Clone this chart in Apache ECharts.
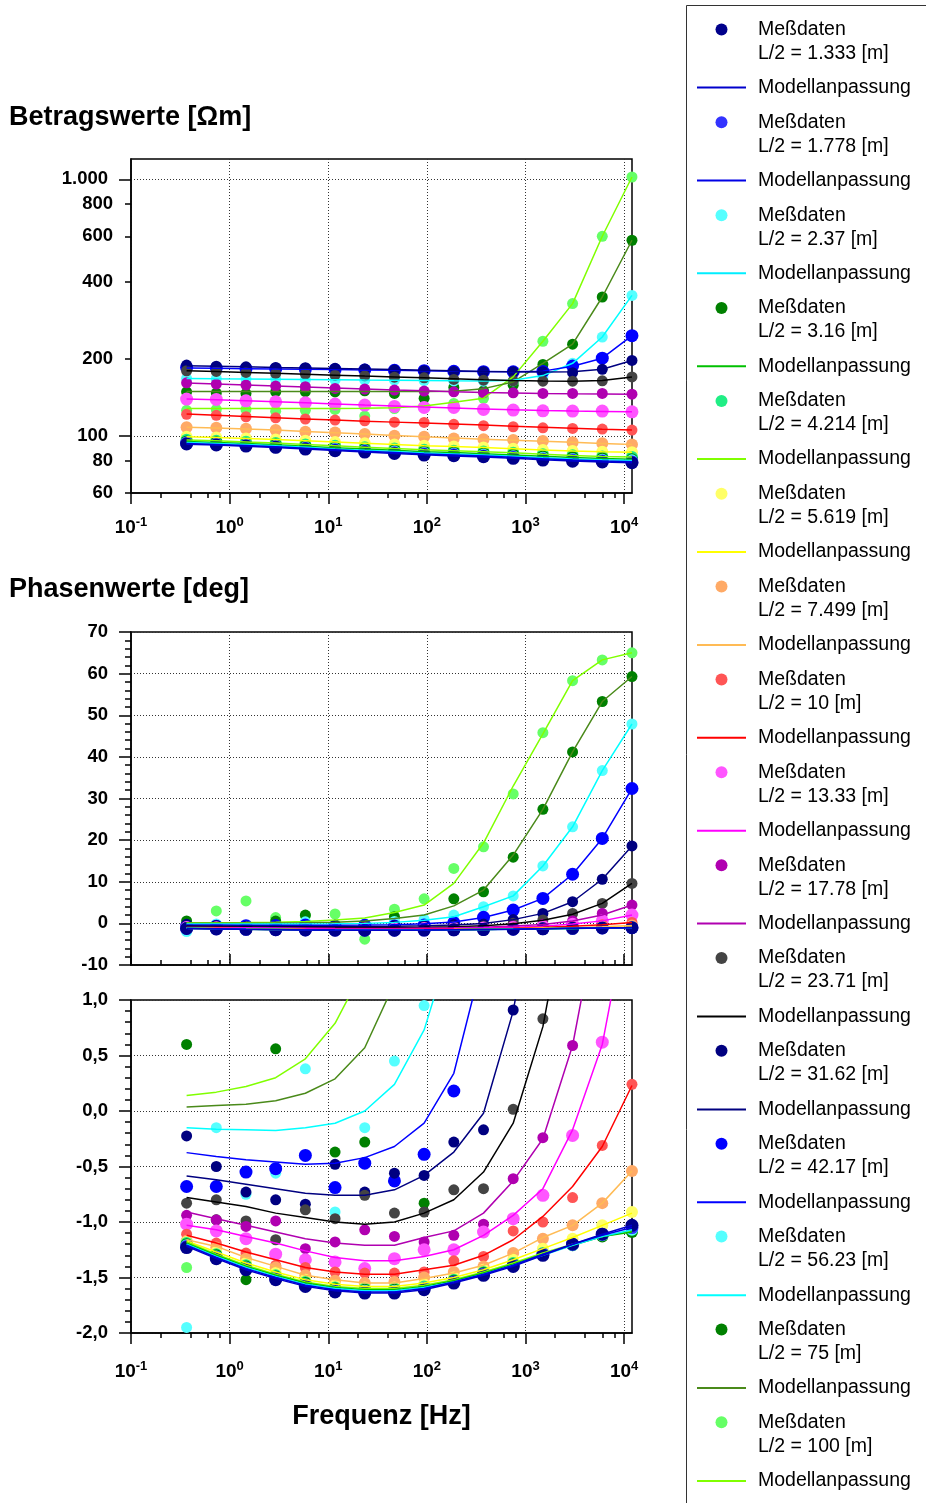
<!DOCTYPE html>
<html><head><meta charset="utf-8">
<script src="https://cdn.jsdelivr.net/npm/echarts@6.0.0/dist/echarts.min.js"></script>
<style>html,body{margin:0;padding:0;background:#fff}#c{width:926px;height:1503px}</style>
</head><body><div id="c"></div>
<script>
// ---------- data ----------
const FREQ = [0.3662, 0.7324, 1.465, 2.93, 5.859, 11.72, 23.44, 46.88, 93.75, 187.5, 375, 750, 1500, 3000, 6000, 12000];
const L_HALF = ['1.333', '1.778', '2.37', '3.16', '4.214', '5.619', '7.499', '10', '13.33', '17.78', '23.71', '31.62', '42.17', '56.23', '75', '100'];
const MARKER_COLORS = ['#00008b', '#3333ff', '#55ffff', '#008000', '#20ee85', '#ffff66', '#ffaa66', '#ff5555', '#ff55ff', '#b000b0', '#444444', '#000080', '#0000ff', '#55ffff', '#008000', '#66ff66'];
const LINE_COLORS = ['#0000cc', '#0000e6', '#00eeff', '#00c000', '#80ff00', '#ffff00', '#ffbb55', '#ff0000', '#ff00ff', '#b000b0', '#000000', '#000080', '#0000ff', '#00ffff', '#4a8a1a', '#80ff00'];
const MARKER_SIZES = [13, 13, 12, 12, 12, 12, 12, 11, 13, 11, 11, 11, 13, 11, 11, 11];

// apparent resistivity, measured [Ohm m]
const RHO_MEAS = [
  [93.1, 92.3, 91.4, 90.4, 89.0, 87.7, 86.6, 85.6, 84.3, 83.8, 83.1, 81.9, 80.6, 79.8, 79.3, 78.7],
  [93.8, 92.9, 91.9, 90.8, 89.7, 88.4, 87.3, 86.1, 85.1, 84.5, 83.7, 82.7, 81.4, 80.6, 79.9, 79.3],
  [94.4, 93.4, 92.7, 91.5, 90.5, 89.2, 88.0, 87.1, 85.9, 85.3, 84.5, 83.5, 82.4, 81.4, 80.8, 80.4],
  [95.3, 94.5, 93.4, 92.6, 91.4, 90.1, 89.1, 88.0, 86.8, 86.3, 85.5, 84.5, 83.3, 82.6, 81.9, 81.2],
  [96.7, 95.8, 95.0, 93.9, 92.7, 91.7, 90.5, 89.4, 88.5, 87.7, 87.0, 86.1, 84.9, 84.1, 83.3, 82.9],
  [99.4, 98.7, 97.8, 96.9, 95.8, 94.7, 93.7, 92.7, 91.7, 91.0, 90.3, 89.3, 88.3, 87.5, 86.9, 86.5],
  [108.1, 107.7, 106.8, 105.5, 103.9, 103.3, 101.8, 100.2, 99.4, 97.9, 97.1, 96.5, 95.6, 94.5, 93.7, 92.8],
  [121.5, 120.4, 118.9, 117.8, 116.4, 115.4, 114.7, 113.3, 113.0, 111.1, 109.7, 108.7, 107.7, 107.1, 106.5, 105.5],
  [139.3, 138.9, 137.2, 136.0, 134.7, 133.2, 132.0, 130.4, 129.3, 129.3, 127.0, 126.2, 125.4, 125.1, 125.1, 124.3],
  [161.2, 159.4, 158.0, 156.5, 155.6, 153.3, 152.4, 151.0, 149.7, 148.7, 147.4, 147.4, 146.5, 146.5, 146.5, 145.6],
  [179.6, 178.5, 177.0, 175.3, 174.3, 172.7, 171.6, 169.5, 168.6, 166.2, 165.0, 164.1, 163.6, 163.6, 164.1, 170.0],
  [189.0, 187.1, 186.0, 185.0, 184.5, 183.5, 182.4, 181.0, 179.6, 178.5, 178.0, 178.0, 178.0, 176.5, 182.0, 197.0],
  [185.0, 184.0, 183.0, 182.6, 182.2, 181.4, 180.8, 180.3, 179.8, 178.8, 178.2, 178.0, 178.5, 187.3, 201.0, 246.0],
  [167.7, 167.3, 166.9, 166.5, 166.0, 165.5, 165.0, 165.0, 164.5, 164.0, 163.5, 164.0, 170.0, 192.0, 243.0, 353.0],
  [148.7, 147.0, 146.5, 148.5, 149.0, 148.5, 150.0, 146.5, 140.2, 154.6, 150.0, 157.8, 190.0, 228.0, 348.0, 579.0],
  [126.0, 127.0, 127.0, 125.0, 126.0, 127.0, 119.6, 128.0, 130.0, 134.0, 140.2, 162.0, 234.0, 328.0, 600.0, 1021.0]
];
// apparent resistivity, model fit [Ohm m]
const RHO_FIT = [
  [93.0, 92.2, 91.3, 90.3, 89.1, 87.8, 86.6, 85.5, 84.5, 83.7, 82.9, 81.9, 80.8, 79.9, 79.2, 78.7],
  [93.6, 92.8, 91.9, 90.9, 89.7, 88.4, 87.2, 86.2, 85.1, 84.4, 83.6, 82.6, 81.5, 80.6, 79.9, 79.4],
  [94.3, 93.5, 92.6, 91.6, 90.4, 89.1, 88.0, 87.0, 85.9, 85.2, 84.4, 83.4, 82.3, 81.4, 80.8, 80.3],
  [95.2, 94.4, 93.5, 92.5, 91.3, 90.1, 89.0, 88.0, 86.9, 86.2, 85.4, 84.4, 83.4, 82.5, 81.8, 81.3],
  [96.6, 95.8, 94.9, 93.9, 92.8, 91.6, 90.5, 89.5, 88.4, 87.7, 86.9, 86.0, 84.9, 84.0, 83.3, 82.8],
  [99.4, 98.7, 97.8, 96.9, 95.8, 94.7, 93.7, 92.7, 91.7, 91.0, 90.2, 89.3, 88.3, 87.5, 86.9, 86.5],
  [108.2, 107.5, 106.6, 105.5, 104.2, 103.0, 101.8, 100.5, 99.3, 98.2, 97.2, 96.3, 95.4, 94.5, 93.6, 92.8],
  [121.8, 120.5, 119.2, 117.9, 116.6, 115.4, 114.3, 113.3, 112.3, 111.3, 110.3, 109.2, 108.2, 107.2, 106.3, 105.5],
  [139.5, 138.5, 137.3, 136.0, 134.7, 133.3, 132.0, 130.9, 129.7, 128.6, 127.5, 126.5, 125.7, 125.1, 124.7, 124.3],
  [161.0, 159.5, 158.0, 156.6, 155.2, 153.8, 152.5, 151.2, 150.0, 148.9, 147.9, 147.2, 146.6, 146.2, 145.9, 145.6],
  [179.5, 178.4, 177.0, 175.5, 174.1, 172.7, 171.3, 170.0, 168.6, 167.2, 165.8, 164.6, 163.8, 163.6, 164.6, 170.0],
  [188.0, 187.0, 186.0, 185.0, 184.3, 183.4, 182.5, 181.5, 180.5, 179.5, 178.6, 178.0, 177.6, 178.0, 182.0, 197.0],
  [184.0, 183.5, 183.0, 182.5, 182.0, 181.5, 181.0, 180.4, 179.8, 179.0, 178.5, 178.0, 179.0, 187.0, 201.0, 246.0],
  [167.5, 167.0, 166.8, 166.4, 166.0, 165.6, 165.2, 165.0, 164.6, 164.2, 164.0, 165.0, 172.0, 192.0, 243.0, 353.0],
  [149.0, 149.0, 149.0, 149.0, 149.0, 149.0, 149.0, 149.0, 149.0, 149.5, 153.0, 162.5, 192.0, 228.0, 348.0, 579.0],
  [128.0, 128.0, 128.0, 128.0, 128.0, 128.0, 128.3, 129.0, 131.0, 135.5, 140.5, 170.0, 234.0, 328.0, 600.0, 1021.0]
];
// phase, measured [deg]
const PH_MEAS = [
  [-1.23, -1.33, -1.43, -1.52, -1.58, -1.63, -1.64, -1.64, -1.61, -1.55, -1.48, -1.40, -1.30, -1.20, -1.11, -1.03],
  [-1.22, -1.32, -1.42, -1.51, -1.57, -1.62, -1.63, -1.63, -1.60, -1.54, -1.47, -1.39, -1.29, -1.20, -1.11, -1.05],
  [-1.21, -1.31, -1.41, -1.50, -1.56, -1.61, -1.62, -1.62, -1.59, -1.54, -1.47, -1.39, -1.29, -1.21, -1.12, -1.07],
  [-1.20, -1.30, -1.40, -1.49, -1.55, -1.60, -1.61, -1.61, -1.59, -1.53, -1.46, -1.38, -1.29, -1.21, -1.13, -1.09],
  [-1.19, -1.29, -1.39, -1.48, -1.54, -1.59, -1.60, -1.60, -1.58, -1.52, -1.45, -1.37, -1.28, -1.20, -1.12, -1.08],
  [-1.18, -1.27, -1.37, -1.46, -1.52, -1.57, -1.59, -1.59, -1.56, -1.50, -1.43, -1.34, -1.24, -1.15, -1.03, -0.91],
  [-1.17, -1.23, -1.33, -1.41, -1.48, -1.53, -1.55, -1.54, -1.50, -1.45, -1.40, -1.28, -1.15, -1.03, -0.83, -0.54],
  [-1.11, -1.19, -1.28, -1.39, -1.41, -1.45, -1.46, -1.46, -1.45, -1.35, -1.31, -1.08, -1.00, -0.78, -0.31, 0.24],
  [-1.02, -1.08, -1.15, -1.29, -1.34, -1.36, -1.42, -1.33, -1.25, -1.25, -1.09, -0.97, -0.76, -0.22, 0.62, 2.0],
  [-0.94, -0.98, -1.04, -0.99, -1.24, -1.18, -1.07, -1.13, -1.18, -1.12, -1.02, -0.61, -0.24, 0.59, 2.4, 4.4],
  [-0.83, -0.80, -0.99, -1.16, -0.89, -0.97, -0.76, -0.92, -0.91, -0.71, -0.70, 0.015, 0.83, 2.4, 4.8, 9.6],
  [-0.225, -0.50, -0.73, -0.80, -0.84, -0.48, -0.73, -0.56, -0.58, -0.28, -0.17, 0.91, 2.4, 5.2, 10.6, 18.6],
  [-0.68, -0.68, -0.55, -0.52, -0.40, -0.69, -0.47, -0.63, -0.39, 0.18, 1.45, 3.2, 6.0, 11.8, 20.4, 32.4],
  [-1.95, -0.15, -0.75, -0.56, 0.38, -0.91, -0.15, 0.45, 0.95, 2.0, 4.0, 6.6, 13.8, 23.2, 36.7, 47.9],
  [0.60, -0.98, -1.52, 0.56, 2.0, -0.37, -0.28, 1.6, -0.83, 5.9, 7.6, 15.9, 27.4, 41.2, 53.3, 59.3],
  [-1.41, 3.0, 5.4, 1.4, 1.9, 2.25, -3.8, 3.4, 5.9, 13.2, 18.4, 31.1, 45.8, 58.3, 63.3, 65.0]
];
// phase, model fit [deg]
const PH_FIT = [
  [-1.22, -1.33, -1.43, -1.51, -1.58, -1.62, -1.64, -1.64, -1.61, -1.55, -1.48, -1.40, -1.30, -1.20, -1.11, -1.03],
  [-1.21, -1.32, -1.42, -1.50, -1.57, -1.61, -1.63, -1.63, -1.60, -1.54, -1.47, -1.39, -1.29, -1.20, -1.12, -1.05],
  [-1.20, -1.31, -1.41, -1.49, -1.56, -1.60, -1.62, -1.62, -1.59, -1.54, -1.47, -1.39, -1.30, -1.21, -1.13, -1.07],
  [-1.19, -1.30, -1.40, -1.48, -1.55, -1.59, -1.61, -1.61, -1.58, -1.53, -1.46, -1.38, -1.29, -1.21, -1.13, -1.09],
  [-1.18, -1.29, -1.39, -1.47, -1.54, -1.58, -1.60, -1.60, -1.57, -1.52, -1.45, -1.37, -1.28, -1.20, -1.13, -1.08],
  [-1.17, -1.27, -1.37, -1.45, -1.52, -1.56, -1.58, -1.58, -1.55, -1.50, -1.43, -1.34, -1.24, -1.14, -1.03, -0.92],
  [-1.16, -1.22, -1.32, -1.40, -1.48, -1.52, -1.55, -1.55, -1.51, -1.46, -1.39, -1.28, -1.14, -1.03, -0.83, -0.54],
  [-1.12, -1.19, -1.27, -1.34, -1.41, -1.45, -1.47, -1.47, -1.43, -1.39, -1.30, -1.16, -0.95, -0.68, -0.32, 0.23],
  [-1.03, -1.07, -1.13, -1.19, -1.26, -1.32, -1.35, -1.35, -1.31, -1.25, -1.12, -0.94, -0.70, -0.17, 0.6, 2.0],
  [-0.91, -0.97, -1.03, -1.09, -1.15, -1.19, -1.21, -1.21, -1.14, -1.08, -0.92, -0.63, -0.25, 0.59, 2.0, 4.4],
  [-0.78, -0.82, -0.86, -0.92, -0.96, -1.00, -1.02, -1.00, -0.92, -0.80, -0.55, -0.11, 0.76, 2.2, 4.8, 9.6],
  [-0.585, -0.62, -0.66, -0.70, -0.74, -0.76, -0.76, -0.71, -0.58, -0.37, -0.02, 0.9, 2.4, 5.2, 10.6, 18.6],
  [-0.375, -0.41, -0.44, -0.46, -0.48, -0.47, -0.42, -0.32, -0.11, 0.34, 1.4, 3.2, 6.0, 11.8, 20.4, 32.4],
  [-0.15, -0.165, -0.17, -0.175, -0.15, -0.11, 0.0, 0.24, 0.73, 1.6, 4.0, 6.6, 13.8, 23.2, 36.7, 47.9],
  [0.036, 0.05, 0.06, 0.093, 0.16, 0.29, 0.57, 1.15, 2.0, 4.2, 8.0, 16.4, 27.4, 41.2, 53.3, 59.3],
  [0.14, 0.17, 0.22, 0.30, 0.47, 0.79, 1.3, 2.6, 4.4, 9.6, 19.3, 33.0, 45.5, 58.3, 63.3, 65.0]
];

// tick values / labels
const X_TICKS = [0.1, 1, 10, 100, 1000, 10000];
const X_TICK_EXP = ['-1', '0', '1', '2', '3', '4'];
const X_MINOR = [0.2, 0.4, 0.6, 0.8, 2, 4, 6, 8, 20, 40, 60, 80, 200, 400, 600, 800, 2000, 4000, 6000, 8000];
const RHO_TICKS_MAJOR = [100, 1000];
const RHO_TICKS_MINOR = [60, 80, 200, 400, 600, 800];

// ---------- chart ----------
const FONT = '"Liberation Sans", Arial, Helvetica, sans-serif';
const GRID_L = 131, GRID_W = 501;
const AXIS_LINE = { color: '#000', width: 1.5 };
const GRID_SPLIT = { show: true, lineStyle: { color: '#333', width: 1, type: [1, 2] } };

function xLabelFormatter(v) {
  let idx = X_TICKS.findIndex(t => Math.abs(Math.log10(t) - Math.log10(v)) < 1e-6);
  return '{b|10}{s|' + (idx >= 0 ? X_TICK_EXP[idx] : '') + '}';
}
const X_RICH = {
  b: { fontSize: 19, fontWeight: 'bold', fontFamily: FONT, color: '#000', lineHeight: 24 },
  s: { fontSize: 13, fontWeight: 'bold', fontFamily: FONT, color: '#000', lineHeight: 10, verticalAlign: 'top' }
};

function xMajor(grid, showLabels, inside, margin, extra) {
  return Object.assign({
    type: 'log', logBase: 10, gridIndex: grid, min: 0.1, max: 12010, position: 'bottom',
    axisLine: { show: true, onZero: false, lineStyle: AXIS_LINE },
    axisTick: { show: true, inside: inside, length: 11, lineStyle: AXIS_LINE, customValues: X_TICKS },
    axisLabel: { show: showLabels, customValues: X_TICKS, formatter: xLabelFormatter, rich: X_RICH, margin: margin },
    splitLine: GRID_SPLIT, minorTick: { show: false }, minorSplitLine: { show: false }
  }, extra || {});
}
function xMinor(grid, inside) {
  return {
    type: 'log', logBase: 10, gridIndex: grid, min: 0.1, max: 12010, position: 'bottom',
    axisLine: { show: false, onZero: false },
    axisTick: { show: true, inside: inside, length: 5, lineStyle: AXIS_LINE, customValues: X_MINOR },
    axisLabel: { show: false }, splitLine: { show: false }
  };
}
const Y_LABEL = { fontSize: 18.5, fontWeight: 'bold', fontFamily: FONT, color: '#000' };

const xAxes = [
  xMajor(0, true, false, 23), xMinor(0, false),
  xMajor(1, false, true, 20), xMinor(1, true),
  xMajor(2, true, false, 27, {
    name: 'Frequenz [Hz]', nameLocation: 'middle', nameGap: 70,
    nameTextStyle: { fontSize: 27, fontWeight: 'bold', fontFamily: FONT, color: '#000', lineHeight: 28 }
  }), xMinor(2, false)
];

const yAxes = [
  { type: 'log', logBase: 10, gridIndex: 0, min: 60, max: 1200, position: 'left',
    axisLine: { show: true, onZero: false, lineStyle: AXIS_LINE },
    axisTick: { show: true, length: 12, lineStyle: AXIS_LINE, customValues: RHO_TICKS_MAJOR },
    axisLabel: Object.assign({ customValues: RHO_TICKS_MAJOR, margin: 23, formatter: v => v >= 1000 ? (Math.floor(v / 1000) + '.' + String(v % 1000).padStart(3, '0')) : String(v) }, Y_LABEL),
    splitLine: GRID_SPLIT, minorTick: { show: false } },
  { type: 'log', logBase: 10, gridIndex: 0, min: 60, max: 1200, position: 'left',
    axisLine: { show: false, onZero: false },
    axisTick: { show: true, length: 6, lineStyle: AXIS_LINE, customValues: RHO_TICKS_MINOR },
    axisLabel: Object.assign({ customValues: RHO_TICKS_MINOR, margin: 18, formatter: v => String(v) }, Y_LABEL),
    splitLine: { show: false } },
  { type: 'value', gridIndex: 1, min: -10, max: 70, interval: 10, position: 'left',
    axisLine: { show: true, onZero: false, lineStyle: AXIS_LINE },
    axisTick: { show: true, length: 12, lineStyle: AXIS_LINE },
    minorTick: { show: true, splitNumber: 5, length: 6, lineStyle: AXIS_LINE },
    axisLabel: Object.assign({ margin: 23 }, Y_LABEL),
    splitLine: GRID_SPLIT },
  { type: 'value', gridIndex: 2, min: -2, max: 1, interval: 0.5, position: 'left',
    axisLine: { show: true, onZero: false, lineStyle: AXIS_LINE },
    axisTick: { show: true, length: 12, lineStyle: AXIS_LINE },
    minorTick: { show: true, splitNumber: 5, length: 6, lineStyle: AXIS_LINE },
    axisLabel: Object.assign({ margin: 23, formatter: v => v.toFixed(1).replace('.', ',') }, Y_LABEL),
    splitLine: GRID_SPLIT }
];

const measName = i => 'L/2 = ' + L_HALF[i] + ' [m]';
const fitName = i => 'fit ' + L_HALF[i];

const series = [];
const panels = [
  { x: 0, y: 0, meas: RHO_MEAS, fit: RHO_FIT },
  { x: 2, y: 2, meas: PH_MEAS, fit: PH_FIT },
  { x: 4, y: 3, meas: PH_MEAS, fit: PH_FIT }
];
for (let i = L_HALF.length - 1; i >= 0; i--) {
  panels.forEach(p => {
    series.push({
      type: 'line', name: fitName(i), xAxisIndex: p.x, yAxisIndex: p.y,
      data: FREQ.map((f, k) => [f, p.fit[i][k]]),
      color: LINE_COLORS[i], symbol: 'none', showSymbol: false,
      lineStyle: { width: 1.5, color: LINE_COLORS[i] }, clip: true, silent: true, animation: false
    });
    series.push({
      type: 'scatter', name: measName(i), xAxisIndex: p.x, yAxisIndex: p.y,
      data: FREQ.map((f, k) => [f, p.meas[i][k]]),
      color: MARKER_COLORS[i], symbol: 'circle', symbolSize: MARKER_SIZES[i],
      itemStyle: { color: MARKER_COLORS[i], opacity: 1, borderWidth: 0 }, clip: true, silent: true, animation: false
    });
  });
}

const LEG_TEXT = { fontSize: 19.5, fontFamily: FONT, color: '#000', lineHeight: 24, padding: [0, 0, 0, 7] };
const TITLE_TEXT = { fontSize: 27, fontWeight: 'bold', fontFamily: FONT, color: '#000', lineHeight: 32 };
const option = {
  backgroundColor: '#fff',
  animation: false,
  title: [
    { text: 'Betragswerte [Ωm]', left: 9, top: 102, padding: 0, textStyle: TITLE_TEXT },
    { text: 'Phasenwerte [deg]', left: 9, top: 574, padding: 0, textStyle: TITLE_TEXT }
  ],
  grid: [
    { left: GRID_L, top: 159, width: GRID_W, height: 334, show: true, borderColor: '#000', borderWidth: 1.5 },
    { left: GRID_L, top: 632, width: GRID_W, height: 333, show: true, borderColor: '#000', borderWidth: 1.5 },
    { left: GRID_L, top: 1000, width: GRID_W, height: 333, show: true, borderColor: '#000', borderWidth: 1.5 }
  ],
  xAxis: xAxes,
  yAxis: yAxes,
  legend: [
    { orient: 'vertical', left: 715.5, top: -6.5, padding: 0, itemGap: 20.85, itemWidth: 49, itemHeight: 12,
      selectedMode: false, data: L_HALF.map((_, i) => measName(i)),
      formatter: n => '\nMeßdaten\n' + n, textStyle: LEG_TEXT, itemStyle: { borderWidth: 0 } },
    { orient: 'vertical', left: 697, top: 75.5, padding: 0, itemGap: 68.9, itemWidth: 49, itemHeight: 2,
      icon: 'rect', selectedMode: false, data: L_HALF.map((_, i) => fitName(i)),
      formatter: () => 'Modellanpassung', textStyle: LEG_TEXT, itemStyle: { borderWidth: 0 } }
  ],
  graphic: [
    { type: 'rect', shape: { x: 686.5, y: 5.5, width: 400, height: 1600 },
      style: { fill: 'none', stroke: '#333', lineWidth: 1 }, silent: true, z: -1 }
  ],
  series: series
};

const chart = echarts.init(document.getElementById('c'), null, { renderer: 'canvas' });
chart.setOption(option);
</script></body></html>
